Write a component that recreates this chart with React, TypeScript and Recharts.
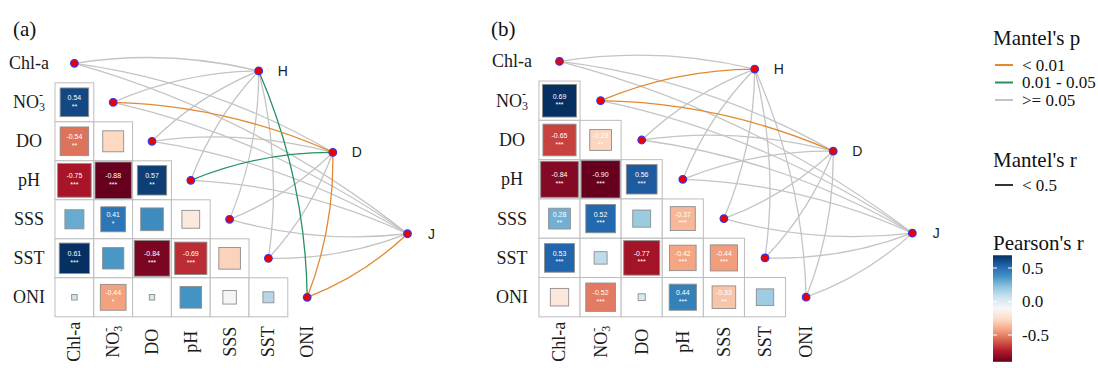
import React from "react";
import { ScatterChart, Scatter, XAxis, YAxis } from "recharts";

const variables = ["Chl-a", "NO3", "DO", "pH", "SSS", "SST", "ONI"];
const envNames = ["H", "D", "J"];

// Pearson's r, lower triangle: rows NO3..ONI, columns Chl-a..SST
const pearsonA = [
  [0.54],
  [-0.54, -0.29],
  [-0.75, -0.88, 0.57],
  [0.24, 0.41, 0.34, -0.21],
  [0.61, 0.3, -0.84, -0.69, -0.31],
  [0.02, -0.44, 0.02, 0.31, -0.12, 0.08],
];
const starsA = [
  ["**"],
  ["**", ""],
  ["***", "***", "**"],
  ["", "*", "", ""],
  ["***", "", "***", "***", ""],
  ["", "*", "", "", "", ""],
];
const pearsonB = [
  [0.69],
  [-0.65, -0.28],
  [-0.84, -0.9, 0.56],
  [0.28, 0.52, 0.19, -0.37],
  [0.53, 0.1, -0.77, -0.42, -0.44],
  [-0.2, -0.52, 0.03, 0.44, -0.33, 0.18],
];
const starsB = [
  ["***"],
  ["***", "**"],
  ["***", "***", "***"],
  ["**", "***", "", "***"],
  ["***", "", "***", "***", "***"],
  ["", "***", "", "***", "**", ""],
];

// Mantel's p class for each env x variable: 0 "< 0.01", 1 "0.01 - 0.05", 2 ">= 0.05"
const mantelA_H = [2, 2, 2, 2, 2, 2, 1];
const mantelA_D = [2, 0, 2, 1, 2, 2, 0];
const mantelA_J = [2, 2, 2, 2, 2, 2, 0];
const mantelB_H = [2, 0, 2, 2, 2, 2, 2];
const mantelB_D = [2, 0, 2, 2, 2, 2, 2];
const mantelB_J = [2, 2, 2, 2, 2, 2, 2];

const pLabels = ["< 0.01", "0.01 - 0.05", ">= 0.05"];
const colorTicks = [0.5, 0.0, -0.5];

// styles / layout
const pColors = ["#E3892F", "#25925F", "#C4C4C4"];
const RDBU = ["#67001F", "#B2182B", "#D6604D", "#F4A582", "#FDDBC7", "#F7F7F7", "#D1E5F0", "#92C5DE", "#4393C3", "#2166AC", "#053061"];
const SERIF = "'Liberation Serif', 'Times New Roman', serif";
const SANS = "'Liberation Sans', Arial, sans-serif";
const ENV_POS = [
  { x: 4.75, y: 0.195 },
  { x: 6.66, y: 2.285 },
  { x: 8.585, y: 4.37 },
];
const X_DOMAIN = [-0.5, 9.6];
const Y_DOMAIN = [-0.5, 6.5];

const PANEL_A = { left: 0, width: 470, cellW: 38.8, cellH: 39, plotLeft: 55, plotTop: 43.8, labelOffset: 26 };
const PANEL_B = { left: 470, width: 490, cellW: 41.1, cellH: 39.3, plotLeft: 68.95, plotTop: 41.75, labelOffset: 27 };

function hexToRgb(h: string) {
  const n = parseInt(h.slice(1), 16);
  return [(n >> 16) & 255, (n >> 8) & 255, n & 255];
}

function fillFor(r: number, lo: number, hi: number) {
  const t = Math.max(0, Math.min(1, (r - lo) / (hi - lo))) * (RDBU.length - 1);
  const i = Math.min(Math.floor(t), RDBU.length - 2);
  const f = t - i;
  const a = hexToRgb(RDBU[i]);
  const b = hexToRgb(RDBU[i + 1]);
  const c = a.map((v, k) => Math.round(v + (b[k] - v) * f));
  return `rgb(${c[0]},${c[1]},${c[2]})`;
}

function VarLabel({ name, x, y, rotate }: any) {
  return (
    <text
      x={x}
      y={y}
      textAnchor="middle"
      dominantBaseline="central"
      fontFamily={SERIF}
      fontSize={18}
      fill="#1a1a1a"
      transform={rotate ? `rotate(-90 ${x} ${y})` : undefined}
    >
      {name === "NO3" ? (
        <>
          <tspan>NO</tspan>
          <tspan fontSize={12} dy={5}>3</tspan>
          <tspan fontSize={12} dx={-6} dy={-12}>-</tspan>
        </>
      ) : (
        name
      )}
    </text>
  );
}

function LinkCurve(props: any) {
  const { points, linkColor, bend } = props;
  if (!points || points.length < 2) return null;
  const [a, b] = points;
  const dx = b.x - a.x;
  const dy = b.y - a.y;
  const qx = (a.x + b.x) / 2 - bend * 0.1 * dy;
  const qy = (a.y + b.y) / 2 + bend * 0.1 * dx;
  return (
    <path
      d={`M${a.x},${a.y} Q${qx},${qy} ${b.x},${b.y}`}
      fill="none"
      stroke={linkColor}
      strokeWidth={1.3}
    />
  );
}

const Empty = () => <g />;

const NodeDot = (p: any) => (
  <circle cx={p.cx} cy={p.cy} r={3.8} fill="#EE0000" stroke="#3535EE" strokeWidth={1.2} />
);

const EnvDot = (p: any) => (
  <g>
    <circle cx={p.cx} cy={p.cy} r={3.8} fill="#EE0000" stroke="#3535EE" strokeWidth={1.2} />
    <text x={p.cx + 24} y={p.cy} textAnchor="middle" dominantBaseline="central" fontFamily={SANS} fontSize={14} fill="#222">
      {p.payload.name}
    </text>
  </g>
);

function Panel({ cfg, pearson, stars, mantel }: any) {
  const cells: any[] = [];
  pearson.forEach((row: number[], i: number) =>
    row.forEach((r, j) => cells.push({ x: j, y: i + 1, r, sig: stars[i][j] }))
  );
  const vals = cells.map((c) => c.r);
  const lo = Math.min(...vals);
  const hi = Math.max(...vals);

  const varNodes = variables.map((v, i) => ({ x: i, y: i, name: v }));
  const envNodes = envNames.map((n, k) => ({ ...ENV_POS[k], name: n }));
  const links: any[] = [];
  envNames.forEach((n, k) =>
    variables.forEach((v, i) =>
      links.push({ key: n + v, cls: mantel[k][i], bend: i <= 3 ? 1 : -1, data: [envNodes[k], varNodes[i]] })
    )
  );
  links.sort((a, b) => b.cls - a.cls);

  const { cellW, cellH } = cfg;
  const plotW = (X_DOMAIN[1] - X_DOMAIN[0]) * cellW;
  const plotH = (Y_DOMAIN[1] - Y_DOMAIN[0]) * cellH;
  const xAxisH = 368 - cfg.plotTop - plotH;
  const right = cfg.width - cfg.plotLeft - plotW;

  const CellShape = (p: any) => {
    const { cx, cy, payload } = p;
    const s = Math.sqrt(Math.abs(payload.r));
    const sw = cellW * s;
    const sh = cellH * s;
    return (
      <g>
        <rect x={cx - cellW / 2} y={cy - cellH / 2} width={cellW} height={cellH} fill="#fff" stroke="#BDBDBD" strokeWidth={1} />
        <rect x={cx - sw / 2} y={cy - sh / 2} width={sw} height={sh} fill={fillFor(payload.r, lo, hi)} stroke="#8E8E8E" strokeWidth={0.9} />
        {payload.sig ? (
          <g fontFamily={SANS} fontSize={7} fill="#fff" textAnchor="middle">
            <text x={cx} y={cy - 4.5} dominantBaseline="central">{payload.r.toFixed(2)}</text>
            <text x={cx} y={cy + 6.5}>{payload.sig}</text>
          </g>
        ) : null}
      </g>
    );
  };

  return (
    <div style={{ position: "absolute", left: cfg.left, top: 0 }}>
      <ScatterChart width={cfg.width} height={368} margin={{ top: cfg.plotTop, right, bottom: 0, left: 0 }}>
        <XAxis
          type="number"
          dataKey="x"
          domain={X_DOMAIN}
          ticks={[0, 1, 2, 3, 4, 5, 6]}
          interval={0}
          axisLine={false}
          tickLine={false}
          tickSize={0}
          tickMargin={0}
          height={xAxisH}
          tick={(t: any) => <VarLabel name={variables[t.payload.value]} x={t.x} y={t.y + 25} rotate />}
        />
        <YAxis
          type="number"
          dataKey="y"
          domain={Y_DOMAIN}
          reversed
          ticks={[0, 1, 2, 3, 4, 5, 6]}
          interval={0}
          axisLine={false}
          tickLine={false}
          tickSize={0}
          tickMargin={0}
          width={cfg.plotLeft}
          tick={(t: any) => <VarLabel name={variables[t.payload.value]} x={t.x - cfg.labelOffset} y={t.y} />}
        />
        <Scatter data={cells} shape={CellShape} isAnimationActive={false} legendType="none" />
        {links.map((l) => (
          <Scatter
            key={l.key}
            data={l.data}
            shape={Empty}
            lineType="joint"
            line={<LinkCurve linkColor={pColors[l.cls]} bend={l.bend} />}
            isAnimationActive={false}
            legendType="none"
          />
        ))}
        <Scatter data={varNodes} shape={NodeDot} isAnimationActive={false} legendType="none" />
        <Scatter data={envNodes} shape={EnvDot} isAnimationActive={false} legendType="none" />
      </ScatterChart>
    </div>
  );
}

function LegendLayer() {
  const allB = pearsonB.flat();
  const lo = Math.min(...allB);
  const hi = Math.max(...allB);
  const zeroY = 301.5;
  const perUnit = 67;
  const barTop = zeroY - hi * perUnit;
  const barBot = zeroY - lo * perUnit;
  return (
    <svg width={1098} height={368} style={{ position: "absolute", left: 0, top: 0, pointerEvents: "none" }}>
      <defs>
        <linearGradient id="pearsonGrad" x1="0" y1="1" x2="0" y2="0">
          {RDBU.map((c, i) => (
            <stop key={c} offset={i / (RDBU.length - 1)} stopColor={c} />
          ))}
        </linearGradient>
      </defs>
      <text x={13} y={36} fontFamily={SERIF} fontSize={21} fill="#111">(a)</text>
      <text x={491} y={36} fontFamily={SERIF} fontSize={21} fill="#111">(b)</text>

      <text x={993} y={45} fontFamily={SERIF} fontSize={21} fill="#111">Mantel's p</text>
      {pLabels.map((lab, i) => (
        <g key={lab}>
          <line x1={995} x2={1013} y1={65 + i * 17.5} y2={65 + i * 17.5} stroke={pColors[i]} strokeWidth={2} />
          <text x={1022} y={65 + i * 17.5} dominantBaseline="central" fontFamily={SERIF} fontSize={17} fill="#111">{lab}</text>
        </g>
      ))}

      <text x={993} y={167} fontFamily={SERIF} fontSize={21} fill="#111">Mantel's r</text>
      <line x1={995} x2={1013} y1={185} y2={185} stroke="#333" strokeWidth={2} />
      <text x={1022} y={185} dominantBaseline="central" fontFamily={SERIF} fontSize={17} fill="#111">{"< 0.5"}</text>

      <text x={993} y={250} fontFamily={SERIF} fontSize={21} fill="#111">Pearson's r</text>
      <rect x={993} y={barTop} width={19} height={barBot - barTop} fill="url(#pearsonGrad)" />
      {colorTicks.map((v) => (
        <g key={v}>
          <line x1={993} x2={997} y1={zeroY - v * perUnit} y2={zeroY - v * perUnit} stroke="#fff" strokeWidth={1} />
          <line x1={1008} x2={1012} y1={zeroY - v * perUnit} y2={zeroY - v * perUnit} stroke="#fff" strokeWidth={1} />
          <text x={1022} y={zeroY - v * perUnit} dominantBaseline="central" fontFamily={SERIF} fontSize={17} fill="#111">
            {v.toFixed(1)}
          </text>
        </g>
      ))}
    </svg>
  );
}

export default function App() {
  return (
    <div style={{ position: "absolute", left: 0, top: 0, width: 1098, height: 368, background: "#fff", overflow: "hidden" }}>
      <Panel cfg={PANEL_A} pearson={pearsonA} stars={starsA} mantel={[mantelA_H, mantelA_D, mantelA_J]} />
      <Panel cfg={PANEL_B} pearson={pearsonB} stars={starsB} mantel={[mantelB_H, mantelB_D, mantelB_J]} />
      <LegendLayer />
    </div>
  );
}
